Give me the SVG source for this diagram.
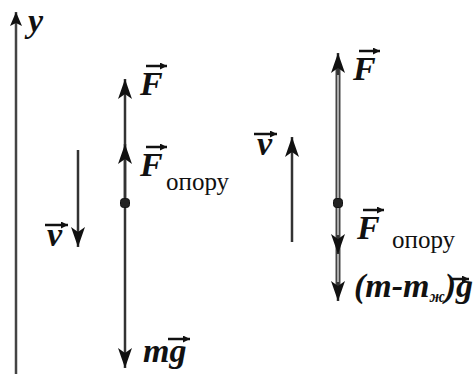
<svg xmlns="http://www.w3.org/2000/svg" width="473" height="374" viewBox="0 0 473 374">
<defs>
<marker id="ah" viewBox="0 0 20 14" refX="20" refY="7" markerWidth="20" markerHeight="14" markerUnits="userSpaceOnUse" orient="auto"><path d="M0,0 L20,7 L0,14 L5,7 Z" fill="#111"/></marker>
<marker id="ay" viewBox="0 0 14 12" refX="14" refY="6" markerWidth="14" markerHeight="12" markerUnits="userSpaceOnUse" orient="auto"><path d="M0,0 L14,6 L0,12 L3,6 Z" fill="#111"/></marker>
<marker id="sa" viewBox="0 0 7 7" refX="7" refY="3.5" markerWidth="7" markerHeight="7" markerUnits="userSpaceOnUse" orient="auto"><path d="M0,0 L7,3.5 L0,7 Z" fill="#111"/></marker>
</defs>
<style>
.ax{stroke:#444;stroke-width:2.5;fill:none}
.dk{stroke:#333;stroke-width:2.5;fill:none}
.gr{stroke:#444;stroke-width:5;fill:none}
.gri{stroke:#aaa;stroke-width:2;fill:none}
.lb{font-family:"Liberation Serif",serif;font-weight:bold;font-style:italic;font-size:34px;fill:#111}
.sub{font-family:"Liberation Serif","DejaVu Serif",serif;font-size:25px;fill:#111}
.vec{stroke:#111;stroke-width:2.5;fill:none}
.dot{fill:#222;stroke:#111;stroke-width:1}
</style>
<g id="axis">
<line class="ax" x1="16" y1="374" x2="16" y2="12" marker-end="url(#ay)"/>
<text class="lb" x="28" y="32">y</text>
</g>
<g id="connectors">
<line class="dk" x1="125" y1="205" x2="125" y2="79" marker-end="url(#ah)"/>
<line class="dk" x1="125" y1="205" x2="125" y2="144" marker-end="url(#ah)"/>
<line class="dk" x1="125" y1="205" x2="125" y2="368" marker-end="url(#ah)"/>
<line class="dk" x1="78" y1="150" x2="78" y2="247" marker-end="url(#ah)"/>
<line class="gr" x1="338" y1="203" x2="338" y2="62"/>
<line class="gri" x1="338" y1="203" x2="338" y2="62"/>
<line class="dk" x1="338" y1="75" x2="338" y2="53" marker-end="url(#ah)"/>
<line class="gr" x1="338" y1="203" x2="338" y2="292"/>
<line class="gri" x1="338" y1="203" x2="338" y2="292"/>
<line class="dk" x1="338" y1="235" x2="338" y2="254" marker-end="url(#ah)"/>
<line class="dk" x1="338" y1="282" x2="338" y2="301" marker-end="url(#ah)"/>
<line class="dk" x1="292" y1="242" x2="292" y2="137" marker-end="url(#ah)"/>
</g>
<g id="body-left">
<rect class="dot" x="120.5" y="198.5" width="9" height="9" rx="3"/>
</g>
<g id="label-F-left">
<text class="lb" x="140" y="95">F</text>
<line class="vec" x1="146" y1="66" x2="167" y2="66" marker-end="url(#sa)"/>
</g>
<g id="label-Fop-left">
<text class="lb" x="140" y="176">F</text>
<line class="vec" x1="146" y1="147" x2="167" y2="147" marker-end="url(#sa)"/>
<text class="sub" x="166" y="190">опору</text>
</g>
<g id="label-mg">
<text class="lb" x="143" y="362">mg</text>
<line class="vec" x1="168" y1="339" x2="190" y2="339" marker-end="url(#sa)"/>
</g>
<g id="label-v-left">
<text class="lb" x="47" y="246">v</text>
<line class="vec" x1="45" y1="225" x2="68" y2="225" marker-end="url(#sa)"/>
</g>
<g id="body-right">
<rect class="dot" x="333.5" y="198.5" width="9" height="9" rx="3"/>
</g>
<g id="label-F-right">
<text class="lb" x="353" y="80">F</text>
<line class="vec" x1="359" y1="51" x2="380" y2="51" marker-end="url(#sa)"/>
</g>
<g id="label-Fop-right">
<text class="lb" x="357" y="239">F</text>
<line class="vec" x1="363" y1="210" x2="384" y2="210" marker-end="url(#sa)"/>
<text class="sub" x="392" y="248">опору</text>
</g>
<g id="label-mmg">
<text class="lb" x="354" y="297" font-size="26">(m-m<tspan font-size="16" dy="5">ж</tspan><tspan dy="-5">)g</tspan></text>
<line class="vec" x1="452" y1="279" x2="469" y2="279" marker-end="url(#sa)"/>
</g>
<g id="label-v-right">
<text class="lb" x="257" y="155">v</text>
<line class="vec" x1="254" y1="134" x2="277" y2="134" marker-end="url(#sa)"/>
</g>
</svg>
